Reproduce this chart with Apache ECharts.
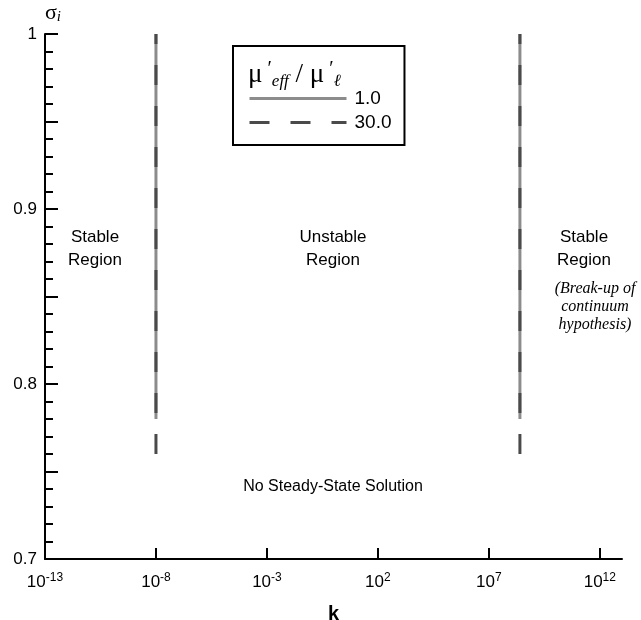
<!DOCTYPE html>
<html>
<head>
<meta charset="utf-8">
<script src="https://cdn.jsdelivr.net/npm/echarts@6/dist/echarts.min.js"></script>
<style>
html, body { margin: 0; padding: 0; background: #fff; }
#chart { width: 641px; height: 620px; }
</style>
</head>
<body>
<div id="chart"></div>
<script>
// log10(k) of the two stability boundaries
const boundaryLogK = [-8, 8.4]
// sigma_i extent of each curve, bottom -> top
const solidSigma = [0.78, 1.0]   // mu'eff / mu'l = 1.0
const dashedSigma = [0.76, 1.0]  // mu'eff / mu'l = 30.0
const seriesNames = ['1.0', '30.0']
const xTickExponents = [-13, -8, -3, 2, 7, 12]
const yTickLabels = [0.7, 0.8, 0.9, 1]

const SANS = '"Liberation Sans", Arial, sans-serif'
const SERIF = '"Liberation Serif", "Times New Roman", serif'

const chart = echarts.init(document.getElementById('chart'))

const series = []
boundaryLogK.forEach(x => {
  series.push({
    name: seriesNames[0],
    type: 'line',
    symbol: 'none',
    silent: true,
    z: 2,
    data: solidSigma.map(y => [x, y]),
    itemStyle: { color: '#8c8c8c' },
    lineStyle: { color: '#8c8c8c', width: 3, type: 'solid' }
  })
})
boundaryLogK.forEach(x => {
  series.push({
    name: seriesNames[1],
    type: 'line',
    symbol: 'none',
    silent: true,
    z: 3,
    data: dashedSigma.map(y => [x, y]),
    itemStyle: { color: '#4a4a4a' },
    lineStyle: { color: '#4a4a4a', width: 3, type: [20, 21] }
  })
})

const option = {
  animation: false,
  backgroundColor: '#fff',
  grid: {
    left: 45,
    right: 19,
    top: 34,
    bottom: 61,
    containLabel: false,
    outerBoundsMode: 'none'
  },
  xAxis: {
    type: 'value',
    min: -13,
    max: 13,
    interval: 5,
    name: 'k',
    nameLocation: 'middle',
    nameGap: 45,
    nameTextStyle: { fontFamily: SANS, fontSize: 20, fontWeight: 'bold', color: '#000' },
    axisLine: { onZero: false, lineStyle: { color: '#000', width: 2 } },
    axisTick: { inside: true, length: 11, customValues: xTickExponents, lineStyle: { color: '#000', width: 2 } },
    splitLine: { show: false },
    axisLabel: {
      customValues: xTickExponents,
      margin: 13,
      formatter: v => '{b|10}{s|' + v + '}',
      rich: {
        b: { fontFamily: SANS, fontSize: 17, color: '#000', lineHeight: 20 },
        s: { fontFamily: SANS, fontSize: 12, color: '#000', lineHeight: 12, verticalAlign: 'top' }
      }
    }
  },
  yAxis: {
    type: 'value',
    min: 0.7,
    max: 1,
    interval: 0.05,
    name: '{s|σ}{i|i}',
    nameLocation: 'end',
    nameGap: 9,
    nameTextStyle: {
      align: 'left',
      rich: {
        s: { fontFamily: SERIF, fontSize: 22, color: '#000', lineHeight: 24 },
        i: { fontFamily: SERIF, fontSize: 15, fontStyle: 'italic', color: '#000', lineHeight: 14, verticalAlign: 'bottom' }
      }
    },
    axisLine: { onZero: false, lineStyle: { color: '#000', width: 2 } },
    axisTick: { inside: true, length: 13, lineStyle: { color: '#000', width: 2 } },
    minorTick: { show: true, splitNumber: 5, length: 8, lineStyle: { color: '#000', width: 2 } },
    splitLine: { show: false },
    axisLabel: {
      customValues: yTickLabels,
      margin: 8,
      fontFamily: SANS,
      fontSize: 17,
      color: '#000',
      formatter: v => String(+v.toFixed(1))
    }
  },
  legend: {
    data: seriesNames,
    orient: 'vertical',
    left: 233,
    top: 46,
    padding: [43, 13, 13, 15],
    itemWidth: 97,
    itemHeight: 20,
    itemGap: 5,
    borderColor: '#000',
    borderWidth: 2,
    borderRadius: 0,
    selectedMode: false,
    itemStyle: { opacity: 0 },
    lineStyle: { width: 3 },
    textStyle: { fontFamily: SANS, fontSize: 19, color: '#000', padding: [0, 0, 0, 3] }
  },
  graphic: [
    {
      type: 'text',
      left: 248,
      top: 60,
      z: 10,
      style: {
        text: '{m|μ}{p| ′}{e|eff}{m| / μ}{p| ′}{e|ℓ}',
        rich: {
          m: { fontFamily: SERIF, fontSize: 27, fill: '#000', lineHeight: 30 },
          p: { fontFamily: SERIF, fontSize: 20, fill: '#000', lineHeight: 20, verticalAlign: 'top' },
          e: { fontFamily: SERIF, fontSize: 17, fontStyle: 'italic', fill: '#000', lineHeight: 14, verticalAlign: 'bottom' }
        }
      }
    },
    {
      type: 'text',
      x: 95,
      y: 249,
      style: { text: 'Stable\nRegion', align: 'center', verticalAlign: 'middle', fontFamily: SANS, fontSize: 17, lineHeight: 23, fill: '#000' }
    },
    {
      type: 'text',
      x: 333,
      y: 249,
      style: { text: 'Unstable\nRegion', align: 'center', verticalAlign: 'middle', fontFamily: SANS, fontSize: 17, lineHeight: 23, fill: '#000' }
    },
    {
      type: 'text',
      x: 584,
      y: 249,
      style: { text: 'Stable\nRegion', align: 'center', verticalAlign: 'middle', fontFamily: SANS, fontSize: 17, lineHeight: 23, fill: '#000' }
    },
    {
      type: 'text',
      x: 595,
      y: 307,
      style: { text: '(Break-up of\ncontinuum\nhypothesis)', align: 'center', verticalAlign: 'middle', fontFamily: SERIF, fontStyle: 'italic', fontSize: 16, lineHeight: 18, fill: '#000' }
    },
    {
      type: 'text',
      x: 333,
      y: 487,
      style: { text: 'No Steady-State Solution', align: 'center', verticalAlign: 'middle', fontFamily: SANS, fontSize: 16, fill: '#000' }
    }
  ],
  series: series
}

chart.setOption(option)
</script>
</body>
</html>
